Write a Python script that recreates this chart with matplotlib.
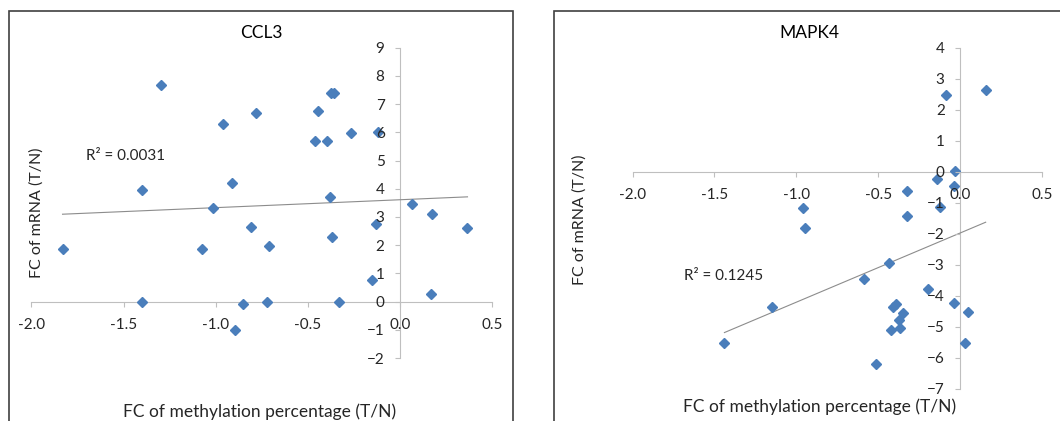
import numpy as np
import matplotlib
matplotlib.use("Agg")
import matplotlib.pyplot as plt
from matplotlib.patches import Rectangle

plt.rcParams['font.family'] = ['Lato', 'DejaVu Sans']

# Daten CCL3
ccl3_x = [-1.831, -1.401, -1.398, -1.297, -1.074, -1.012, -0.961, -0.911, -0.893, -0.854,
          -0.808, -0.782, -0.722, -0.709, -0.461, -0.444, -0.395, -0.378, -0.376, -0.360,
          -0.367, -0.331, -0.263, -0.151, -0.127, -0.120, 0.064, 0.176, 0.167, 0.367]
ccl3_y = [1.88, 3.95, 0.00, 7.68, 1.88, 3.31, 6.31, 4.21, -1.00, -0.08,
          2.65, 6.67, 0.00, 1.97, 5.70, 6.74, 5.70, 3.70, 7.38, 7.41,
          2.28, 0.00, 5.96, 0.77, 2.74, 6.00, 3.46, 3.10, 0.27, 2.61]
ccl3_trend = (0.28, 3.61)  # Steigung, Achsenabschnitt
ccl3_r2 = "R² = 0.0031"

# Daten MAPK4
mapk4_x = [-1.439, -1.146, -0.958, -0.947, -0.588, -0.516, -0.433, -0.421, -0.411, -0.390,
           -0.374, -0.365, -0.349, -0.326, -0.324, -0.194, -0.138, -0.120, -0.083, -0.039,
           -0.033, -0.037, 0.031, 0.052, 0.157]
mapk4_y = [-5.51, -4.35, -1.18, -1.83, -3.47, -6.19, -2.94, -5.11, -4.35, -4.27,
           -4.78, -5.03, -4.55, -0.61, -1.43, -3.80, -0.24, -1.13, 2.48, -0.46,
           0.03, -4.22, -5.54, -4.51, 2.63]
mapk4_trend = (2.23, -1.98)
mapk4_r2 = "R² = 0.1245"

x_ticks = [-2.0, -1.5, -1.0, -0.5, 0.0, 0.5]
xlabel = "FC of methylation percentage (T/N)"
ylabel = "FC of mRNA (T/N)"

blue = '#4a7ebb'
axis_grey = '#bfbfbf'
text_col = '#262626'

fig = plt.figure(figsize=(10.6, 4.21), dpi=100)

# Rahmen der beiden Diagrammbereiche
fig.patches.append(Rectangle((9 / 1060, -0.1), 504 / 1060, 1.1 - 10.5 / 421, transform=fig.transFigure,
                             fill=False, edgecolor='#404040', lw=1.2))
fig.patches.append(Rectangle((554 / 1060, -0.1), 0.6, 1.1 - 10.5 / 421, transform=fig.transFigure,
                             fill=False, edgecolor='#404040', lw=1.2))


def panel(rect, xs, ys, trend, r2, r2_pos, ylim, title, title_x, xlabel_pos, ylabel_pos):
    ax = fig.add_axes(rect)
    ax.set_xlim(-2.0, 0.5)
    ax.set_ylim(*ylim)
    ax.set_axisbelow(False)
    ax.spines['top'].set_visible(False)
    ax.spines['right'].set_visible(False)
    ax.spines['left'].set_position(('data', 0))
    ax.spines['bottom'].set_position(('data', 0))
    for s in ('left', 'bottom'):
        ax.spines[s].set_color(axis_grey)
        ax.spines[s].set_linewidth(0.8)
        ax.spines[s].set_zorder(1)
    ax.set_xticks(x_ticks)
    ax.set_xticklabels([f"{t:.1f}" for t in x_ticks])
    ax.set_yticks(range(ylim[0], ylim[1] + 1))
    ax.tick_params(axis='x', direction='out', length=3.5, width=0.8, color=axis_grey,
                   labelsize=11, labelcolor=text_col, pad=8.5)
    ax.tick_params(axis='y', direction='out', length=3.5, width=0.8, color=axis_grey,
                   labelsize=11, labelcolor=text_col, pad=7.5)
    ax.patch.set_alpha(0)

    xs = np.array(xs)
    tx = np.array([xs.min(), xs.max()])
    ax.plot(tx, trend[0] * tx + trend[1], color='#8c8c8c', lw=0.8, zorder=1.8)
    ax.plot(xs, ys, 'D', color=blue, ms=5, mec=blue, zorder=2, clip_on=False)
    ax.text(r2_pos[0], r2_pos[1], r2, fontsize=11, color=text_col, va='center', ha='left')

    fig.text(title_x, 1 - 33 / 421, title, ha='center', va='center', fontsize=12.5, color='black')
    fig.text(xlabel_pos[0], xlabel_pos[1], xlabel, ha='center', va='center', fontsize=12.5, color=text_col)
    fig.text(ylabel_pos[0], ylabel_pos[1], ylabel, ha='center', va='center', rotation=90,
             fontsize=11.5, color=text_col)
    return ax


panel([31.4 / 1060, 1 - 358 / 421, 460.6 / 1060, 310.3 / 421], ccl3_x, ccl3_y, ccl3_trend, ccl3_r2,
      (-1.705, 5.17), (-2, 9), "CCL3", 261 / 1060, (260 / 1060, 1 - 412 / 421), (37 / 1060, 1 - 213 / 421))
panel([632.6 / 1060, 1 - 388.7 / 421, 409.2 / 1060, 341 / 421], mapk4_x, mapk4_y, mapk4_trend, mapk4_r2,
      (-1.687, -3.36), (-7, 4), "MAPK4", 809 / 1060, (820 / 1060, 1 - 407 / 421), (580 / 1060, 1 - 220 / 421))

fig.savefig("out.png", dpi=100)
